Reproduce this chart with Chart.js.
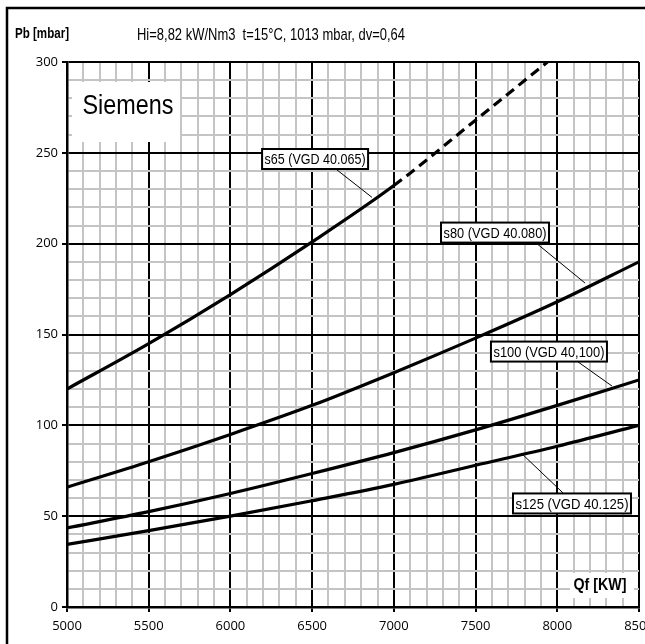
<!DOCTYPE html>
<html>
<head>
<meta charset="utf-8">
<script src="https://cdn.jsdelivr.net/npm/chart.js@4"></script>
<style>
html,body{margin:0;padding:0;background:#fff;}
#wrap{width:645px;height:644px;position:relative;}
</style>
</head>
<body>
<div id="wrap"><canvas id="c" width="645" height="644"></canvas></div>
<script>
// ---- data ----
const qS65 = [5000, 5500, 6000, 6500, 7000, 7500, 7940];
const pS65 = [120, 145, 172, 201, 232, 268, 300];
const qS80 = [5000, 5500, 6000, 6500, 7000, 7500, 8000, 8500];
const pS80 = [66, 80, 95, 111, 129, 148, 168, 190];
const qS100 = [5000, 5500, 6000, 6500, 7000, 7500, 8000, 8500];
const pS100 = [43.5, 52.5, 62.5, 73.5, 85, 97.5, 111, 125];
const qS125 = [5000, 5500, 6000, 6500, 7000, 7500, 8000, 8500];
const pS125 = [34.5, 42, 50, 58.5, 67.5, 78, 88.5, 100];
const seriesNames = ["s65 (VGD 40.065)", "s80 (VGD 40.080)", "s100 (VGD 40,100)", "s125 (VGD 40.125)"];
const dashedFrom = 7000; // s65 dashed beyond this flow
// label centres (data coords) and leader lines [from, to]
const labelQ = [6518, 7619, 7949, 8090];
const labelP = [246.6, 206.1, 140.6, 57];
const leaderQ = [[6652, 6866], [7870, 8170], [8127, 8335], [8035, 7778]];
const leaderP = [[240.6, 225.5], [200.4, 178.3], [134.9, 121.6], [62.8, 84.8]];
const xTicks = [5000, 5500, 6000, 6500, 7000, 7500, 8000, 8500];
const yTicks = [0, 50, 100, 150, 200, 250, 300];
const titleText = "Hi=8,82 kW/Nm3  t=15°C, 1013 mbar, dv=0,64";
const yTitle = "Pb [mbar]";
const xTitle = "Qf [KW]";
const brand = "Siemens";

function pts(q, p){ return q.map((v,i)=>({x:v, y:p[i]})); }

const SANS = '"Liberation Sans", Arial, sans-serif';

function fitText(ctx, text, x, y, font, width, align){
  ctx.save();
  ctx.font = font;
  const w = ctx.measureText(text).width;
  const s = width / w;
  ctx.translate(x, y);
  ctx.scale(s, 1);
  ctx.textAlign = align || 'left';
  ctx.textBaseline = 'middle';
  ctx.fillStyle = '#000';
  ctx.fillText(text, 0, 0);
  ctx.restore();
}

const decor = {
  id: 'decor',
  afterDatasetsDraw(chart){
    const ctx = chart.ctx, xs = chart.scales.x, ys = chart.scales.y;
    ctx.save();
    for (let i = 0; i < seriesNames.length; i++){
      ctx.strokeStyle = '#000'; ctx.lineWidth = 1;
      ctx.beginPath();
      ctx.moveTo(xs.getPixelForValue(leaderQ[i][0]), ys.getPixelForValue(leaderP[i][0]));
      ctx.lineTo(xs.getPixelForValue(leaderQ[i][1]), ys.getPixelForValue(leaderP[i][1]));
      ctx.stroke();
    }
    const boxW = [106, 108, 116, 118];
    for (let i = 0; i < seriesNames.length; i++){
      const cx = xs.getPixelForValue(labelQ[i]), cy = ys.getPixelForValue(labelP[i]);
      const w = boxW[i], h = 20;
      ctx.fillStyle = '#fff';
      ctx.fillRect(cx - w/2, cy - h/2, w, h);
      ctx.strokeStyle = '#000'; ctx.lineWidth = 2;
      ctx.strokeRect(cx - w/2, cy - h/2, w, h);
      fitText(ctx, seriesNames[i], cx, cy + 1, '15px ' + SANS, w - 5, 'center');
    }
    // Siemens box
    ctx.fillStyle = '#fff';
    ctx.fillRect(72, 82, 108, 60);
    fitText(ctx, brand, 128, 107, '27px ' + SANS, 91, 'center');
    // Qf box
    ctx.fillStyle = '#fff';
    ctx.fillRect(570, 573, 64, 25);
    fitText(ctx, xTitle, 600, 585, 'bold 17px ' + SANS, 53, 'center');
    ctx.restore();
  },
  afterDraw(chart){
    const ctx = chart.ctx;
    ctx.save();
    ctx.strokeStyle = '#000'; ctx.lineWidth = 2.5;
    ctx.beginPath();
    ctx.moveTo(7, 660); ctx.lineTo(7, 8); ctx.lineTo(660, 8);
    ctx.stroke();
    fitText(ctx, titleText, 137, 35, '17px ' + SANS, 268, 'left');
    fitText(ctx, yTitle, 15, 34, 'bold 15px ' + SANS, 54, 'left');
    ctx.restore();
  }
};

const isMajorX = v => v % 500 === 0;
const isMajorY = v => v % 50 === 0;

new Chart(document.getElementById('c'), {
  type: 'line',
  data: {
    datasets: [
      { label: seriesNames[0], data: pts(qS65, pS65),
        segment: { borderDash: ctx => ctx.p0.parsed.x >= dashedFrom ? [10, 6] : undefined } },
      { label: seriesNames[1], data: pts(qS80, pS80) },
      { label: seriesNames[2], data: pts(qS100, pS100) },
      { label: seriesNames[3], data: pts(qS125, pS125) }
    ].map(d => Object.assign({
      borderColor: '#000', borderWidth: 3.2, pointRadius: 0, fill: false,
      cubicInterpolationMode: 'monotone'
    }, d))
  },
  plugins: [decor],
  options: {
    responsive: false,
    animation: false,
    events: [],
    layout: { padding: { left: 7, top: 62, right: 6, bottom: 7 } },
    plugins: { legend: { display: false }, tooltip: { enabled: false }, title: { display: false } },
    scales: {
      x: {
        type: 'linear', min: xTicks[0], max: xTicks[xTicks.length - 1],
        border: { display: true, color: '#000', width: 2.5 },
        grid: {
          color: c => isMajorX(c.tick.value) ? '#000' : '#c4c4c4',
          lineWidth: 2,
          tickColor: c => isMajorX(c.tick.value) ? '#000' : 'rgba(0,0,0,0)',
          tickLength: 5, drawTicks: true
        },
        ticks: {
          stepSize: 100, autoSkip: false, maxRotation: 0, padding: 6,
          color: '#000', font: { family: '"Open Sans", sans-serif', size: 13 },
          callback: v => xTicks.includes(v) ? String(v) : ''
        },
        afterFit: s => { s.height = 30; s.paddingLeft = 0; s.paddingRight = 0; }
      },
      y: {
        type: 'linear', min: yTicks[0], max: yTicks[yTicks.length - 1],
        border: { display: true, color: '#000', width: 2.5 },
        grid: {
          color: c => isMajorY(c.tick.value) ? '#000' : '#c4c4c4',
          lineWidth: 2,
          tickColor: c => isMajorY(c.tick.value) ? '#000' : 'rgba(0,0,0,0)',
          tickLength: 5, drawTicks: true
        },
        ticks: {
          stepSize: 10, autoSkip: false, padding: 4,
          color: '#000', font: { family: '"Open Sans", sans-serif', size: 13 },
          callback: v => yTicks.includes(v) ? String(v) : ''
        },
        afterFit: s => { s.width = 60; s.paddingTop = 0; s.paddingBottom = 0; }
      }
    }
  }
});
</script>
</body>
</html>
